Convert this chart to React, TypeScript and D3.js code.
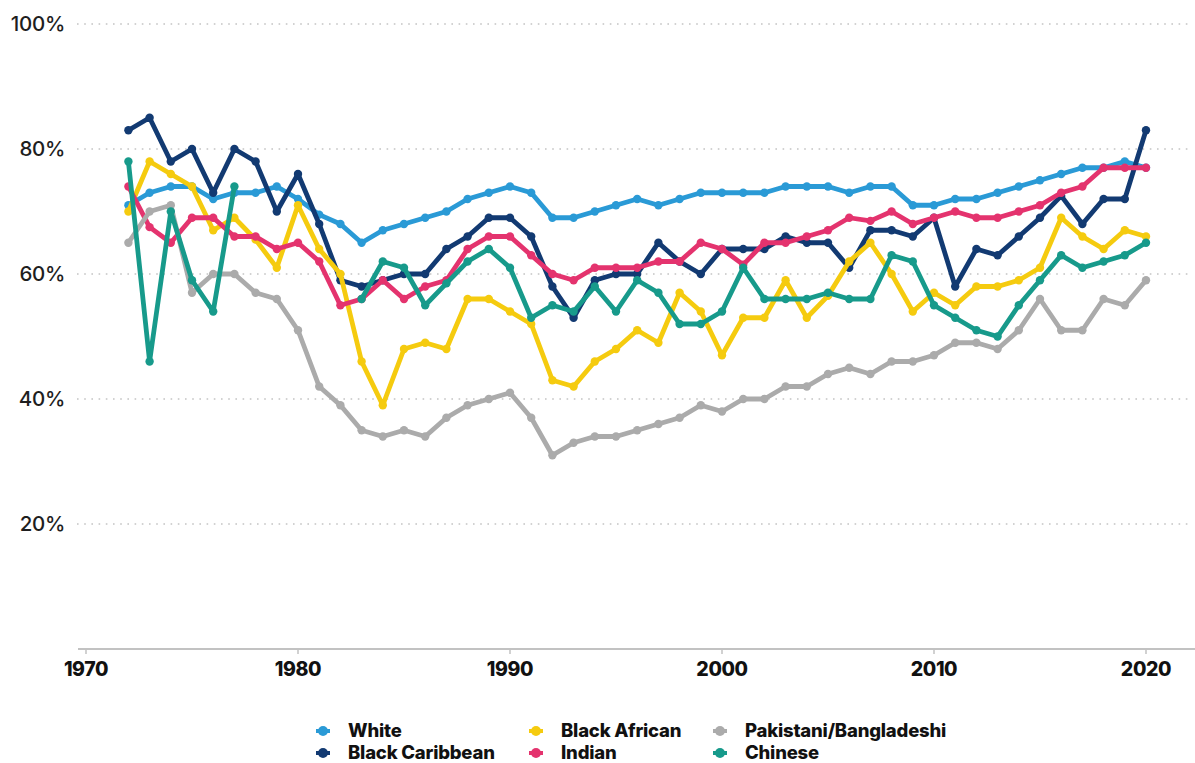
import React from "react";
import * as d3 from "d3";

const years: number[] = d3.range(1972, 2021);

const white: (number | null)[] = [71, 73, 74, 74, 72, 73, 73, 74, 72, 69.5, 68, 65, 67, 68, 69, 70, 72, 73, 74, 73, 69, 69, 70, 71, 72, 71, 72, 73, 73, 73, 73, 74, 74, 74, 73, 74, 74, 71, 71, 72, 72, 73, 74, 75, 76, 77, 77, 78, 77];
const blackCaribbean: (number | null)[] = [83, 85, 78, 80, 73, 80, 78, 70, 76, 68, 59, 58, 59, 60, 60, 64, 66, 69, 69, 66, 58, 53, 59, 60, 60, 65, 62, 60, 64, 64, 64, 66, 65, 65, 61, 67, 67, 66, 69, 58, 64, 63, 66, 69, 72.5, 68, 72, 72, 83];
const blackAfrican: (number | null)[] = [70, 78, 76, 74, 67, 69, 65.5, 61, 71, 64, 60, 46, 39, 48, 49, 48, 56, 56, 54, 52, 43, 42, 46, 48, 51, 49, 57, 54, 47, 53, 53, 59, 53, 56.5, 62, 65, 60, 54, 57, 55, 58, 58, 59, 61, 69, 66, 64, 67, 66];
const indian: (number | null)[] = [74, 67.5, 65, 69, 69, 66, 66, 64, 65, 62, 55, 56, 59, 56, 58, 59, 64, 66, 66, 63, 60, 59, 61, 61, 61, 62, 62, 65, 64, 61.5, 65, 65, 66, 67, 69, 68.5, 70, 68, 69, 70, 69, 69, 70, 71, 73, 74, 77, 77, 77];
const pakistaniBangladeshi: (number | null)[] = [65, 70, 71, 57, 60, 60, 57, 56, 51, 42, 39, 35, 34, 35, 34, 37, 39, 40, 41, 37, 31, 33, 34, 34, 35, 36, 37, 39, 38, 40, 40, 42, 42, 44, 45, 44, 46, 46, 47, 49, 49, 48, 51, 56, 51, 51, 56, 55, 59];
const chinese: (number | null)[] = [78, 46, 70, 59, 54, 74, null, null, null, null, null, 56, 62, 61, 55, 58.5, 62, 64, 61, 53, 55, 54, 58, 54, 59, 57, 52, 52, 54, 61, 56, 56, 56, 57, 56, 56, 63, 62, 55, 53, 51, 50, 55, 59, 63, 61, 62, 63, 65];

const seriesNames: string[] = ["White", "Black Caribbean", "Black African", "Indian", "Pakistani/Bangladeshi", "Chinese"];
const seriesValues = [white, blackCaribbean, blackAfrican, indian, pakistaniBangladeshi, chinese];
const seriesColors: string[] = ["#2a9ad6", "#123a72", "#f5cb0f", "#e4336e", "#ababab", "#179a8b"];

const xTicks: number[] = [1970, 1980, 1990, 2000, 2010, 2020];
const yTicks: number[] = [20, 40, 60, 80, 100];

// legend grid: [column, row] per series in seriesNames order
const legendPos: [number, number][] = [[0, 0], [0, 1], [1, 0], [1, 1], [2, 0], [2, 1]];
const legendColX: number[] = [323, 536, 720];
const legendRowY: number[] = [731, 753];

const W = 1195;
const H = 763;
const FONT = "Inter, Roboto, 'Noto Sans', sans-serif";

export default function App() {
  const x = d3.scaleLinear().domain([1970, 2020]).range([86, 1146]);
  const y = d3.scaleLinear().domain([0, 100]).range([649, 24]);

  const line = d3
    .line<[number, number | null]>()
    .defined((d) => d[1] != null)
    .x((d) => x(d[0]))
    .y((d) => y(d[1] as number));

  return (
    <div style={{ position: "absolute", left: 0, top: 0 }}>
      <style>{`body{margin:0;}`}</style>
      <svg width={W} height={H} style={{ display: "block", background: "#fff" }}>
        {/* gridlines */}
        {yTicks.map((t) => (
          <g key={t}>
            <line
              x1={77}
              x2={1192}
              y1={y(t)}
              y2={y(t)}
              stroke="#c4c4c4"
              strokeWidth={1.6}
              strokeDasharray="1.6 5.6"
            />
            <text
              x={65}
              y={y(t)}
              dy="0.36em"
              textAnchor="end"
              fontFamily={FONT}
              fontSize={20.5}
              fontWeight={500}
              letterSpacing={-0.3}
              fill="#1e1e1e"
            >
              {t}%
            </text>
          </g>
        ))}
        {/* x axis */}
        <line x1={78} x2={1195} y1={y(0)} y2={y(0)} stroke="#c2c2c2" strokeWidth={1.8} />
        {xTicks.map((t) => (
          <g key={t}>
            <line x1={x(t)} x2={x(t)} y1={y(0)} y2={y(0) + 5} stroke="#c2c2c2" strokeWidth={1.5} />
            <text
              x={x(t)}
              y={y(0) + 20}
              dy="0.36em"
              textAnchor="middle"
              fontFamily={FONT}
              fontSize={19.5}
              fontWeight={800}
              letterSpacing={-0.4}
              fill="#111"
            >
              {t}
            </text>
          </g>
        ))}
        {/* series */}
        {seriesValues.map((vals, i) => {
          const pts: [number, number | null][] = years.map((yr, j) => [yr, vals[j]]);
          return (
            <g key={seriesNames[i]}>
              <path
                d={line(pts) || ""}
                fill="none"
                stroke={seriesColors[i]}
                strokeWidth={4.8}
                strokeLinejoin="round"
                strokeLinecap="round"
              />
              {pts
                .filter((p) => p[1] != null)
                .map((p) => (
                  <circle key={p[0]} cx={x(p[0])} cy={y(p[1] as number)} r={4.2} fill={seriesColors[i]} />
                ))}
            </g>
          );
        })}
        {/* legend */}
        {seriesNames.map((name, i) => {
          const [c, r] = legendPos[i];
          const lx = legendColX[c];
          const ly = legendRowY[r];
          return (
            <g key={name}>
              <line x1={lx - 7} x2={lx + 7} y1={ly} y2={ly} stroke={seriesColors[i]} strokeWidth={4} />
              <circle cx={lx} cy={ly} r={5} fill={seriesColors[i]} />
              <text
                x={lx + 25}
                y={ly}
                dy="0.35em"
                fontFamily={FONT}
                fontSize={18.5}
                fontWeight={800}
                letterSpacing={-0.2}
                fill="#111"
              >
                {name}
              </text>
            </g>
          );
        })}
      </svg>
    </div>
  );
}
